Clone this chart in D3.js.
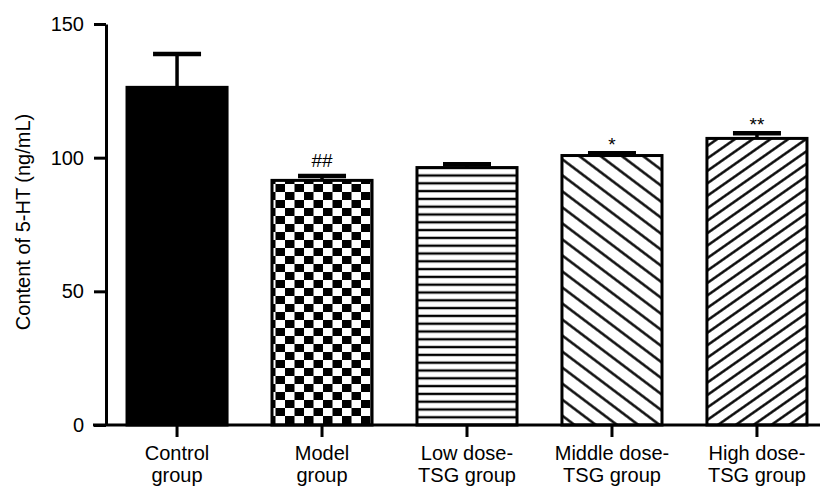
<!DOCTYPE html>
<html>
<head>
<meta charset="utf-8">
<script src="https://cdn.jsdelivr.net/npm/d3@7"></script>
<style>
  body { margin: 0; background: #fff; }
  text { font-family: "Liberation Sans", Arial, Helvetica, sans-serif; fill: #000; }
</style>
</head>
<body>
<div id="vizArea"></div>
<script>
// data
const groups = ["Control group", "Model group", "Low dose-TSG group", "Middle dose-TSG group", "High dose-TSG group"];
const groupLines = [["Control", "group"], ["Model", "group"], ["Low dose-", "TSG group"], ["Middle dose-", "TSG group"], ["High dose-", "TSG group"]];
const means = [126.3, 91.5, 96.3, 100.8, 107.2];
const sds = [12.5, 1.6, 1.2, 0.85, 1.95];
const marks = ["", "##", "", "*", "**"];
const fills = ["solid", "checker", "hlines", "diagDown", "diagUp"];
const yTicks = [0, 50, 100, 150];

const width = 823, height = 489;

const svg = d3.select("#vizArea")
    .append("svg")
    .attr("width", width)
    .attr("height", height);

const defs = svg.append("defs");

// checkerboard
const chk = defs.append("pattern")
    .attr("id", "checker")
    .attr("patternUnits", "userSpaceOnUse")
    .attr("width", 19).attr("height", 16);
chk.append("rect").attr("width", 19).attr("height", 16).attr("fill", "#fff");
chk.append("rect").attr("x", 0).attr("y", 0).attr("width", 9.5).attr("height", 8).attr("fill", "#000");
chk.append("rect").attr("x", 9.5).attr("y", 8).attr("width", 9.5).attr("height", 8).attr("fill", "#000");

// line patterns
function linePattern(id, spacing, angle) {
    const p = defs.append("pattern")
        .attr("id", id)
        .attr("patternUnits", "userSpaceOnUse")
        .attr("width", 20).attr("height", spacing)
        .attr("patternTransform", `rotate(${angle})`);
    p.append("rect").attr("width", 20).attr("height", spacing).attr("fill", "#fff");
    p.append("line")
        .attr("x1", 0).attr("x2", 20)
        .attr("y1", spacing / 2).attr("y2", spacing / 2)
        .attr("stroke", "#000")
        .attr("stroke-width", 2.4);
}
linePattern("hlines", 7.8, 0);
linePattern("diagDown", 12.8, 37);
linePattern("diagUp", 10.2, -35);

const x = d3.scaleBand()
    .domain(groups)
    .range([106, 828])
    .paddingInner(0.31)
    .paddingOuter(0.145);

const y = d3.scaleLinear()
    .domain([0, 150])
    .range([425, 24]);

// bars
svg.selectAll("rect.bar")
    .data(groups)
    .join("rect")
    .attr("class", "bar")
    .attr("x", d => x(d))
    .attr("width", x.bandwidth())
    .attr("y", (d, i) => y(means[i]))
    .attr("height", (d, i) => y(0) - y(means[i]))
    .attr("fill", (d, i) => fills[i] == "solid" ? "#000" : `url(#${fills[i]})`)
    .attr("stroke", "#000")
    .attr("stroke-width", 3);

// error bars (upper only)
svg.selectAll("line.err")
    .data(groups)
    .join("line")
    .attr("class", "err")
    .attr("x1", d => x(d) + x.bandwidth() / 2)
    .attr("x2", d => x(d) + x.bandwidth() / 2)
    .attr("y1", (d, i) => y(means[i]))
    .attr("y2", (d, i) => y(means[i] + sds[i]))
    .attr("stroke", "#000")
    .attr("stroke-width", 3.5);

svg.selectAll("line.cap")
    .data(groups)
    .join("line")
    .attr("class", "cap")
    .attr("x1", d => x(d) + x.bandwidth() / 2 - 24)
    .attr("x2", d => x(d) + x.bandwidth() / 2 + 24)
    .attr("y1", (d, i) => y(means[i] + sds[i]))
    .attr("y2", (d, i) => y(means[i] + sds[i]))
    .attr("stroke", "#000")
    .attr("stroke-width", 4.5);

// significance marks
svg.selectAll("text.mark")
    .data(groups)
    .join("text")
    .attr("class", "mark")
    .attr("x", d => x(d) + x.bandwidth() / 2)
    .attr("y", (d, i) => y(means[i] + sds[i]) - (marks[i].startsWith("#") ? 9.5 : 2.5))
    .attr("text-anchor", "middle")
    .style("font-size", "19px")
    .text((d, i) => marks[i]);

// y axis
const yAxis = svg.append("g")
    .attr("transform", "translate(106,0)")
    .call(d3.axisLeft(y).tickValues(yTicks).tickSize(12).tickSizeOuter(0).tickPadding(10));
yAxis.select(".domain").attr("stroke-width", 3);
yAxis.selectAll(".tick line").attr("stroke-width", 3);
yAxis.selectAll(".tick text").style("font-size", "20px").style("font-family", "Liberation Sans, Arial, sans-serif");

// x axis
const xAxis = svg.append("g")
    .attr("transform", "translate(0,425)")
    .call(d3.axisBottom(x).tickSize(12).tickSizeOuter(0).tickFormat(""));
xAxis.select(".domain").attr("d", "M93,0H820").attr("stroke-width", 3);
xAxis.selectAll(".tick line").attr("stroke-width", 3);

// two-line category labels
svg.selectAll("text.xlab")
    .data(groups)
    .join("text")
    .attr("class", "xlab")
    .attr("text-anchor", "middle")
    .attr("transform", d => `translate(${x(d) + x.bandwidth() / 2},460)`)
    .style("font-size", "20px")
    .selectAll("tspan")
    .data((d, i) => groupLines[i])
    .join("tspan")
    .attr("x", 0)
    .attr("dy", (d, j) => j == 0 ? 0 : 22)
    .text(d => d);

// y axis title
svg.append("text")
    .attr("transform", "translate(30,222) rotate(-90)")
    .attr("text-anchor", "middle")
    .style("font-size", "20px")
    .text("Content of 5-HT (ng/mL)");
</script>
</body>
</html>
